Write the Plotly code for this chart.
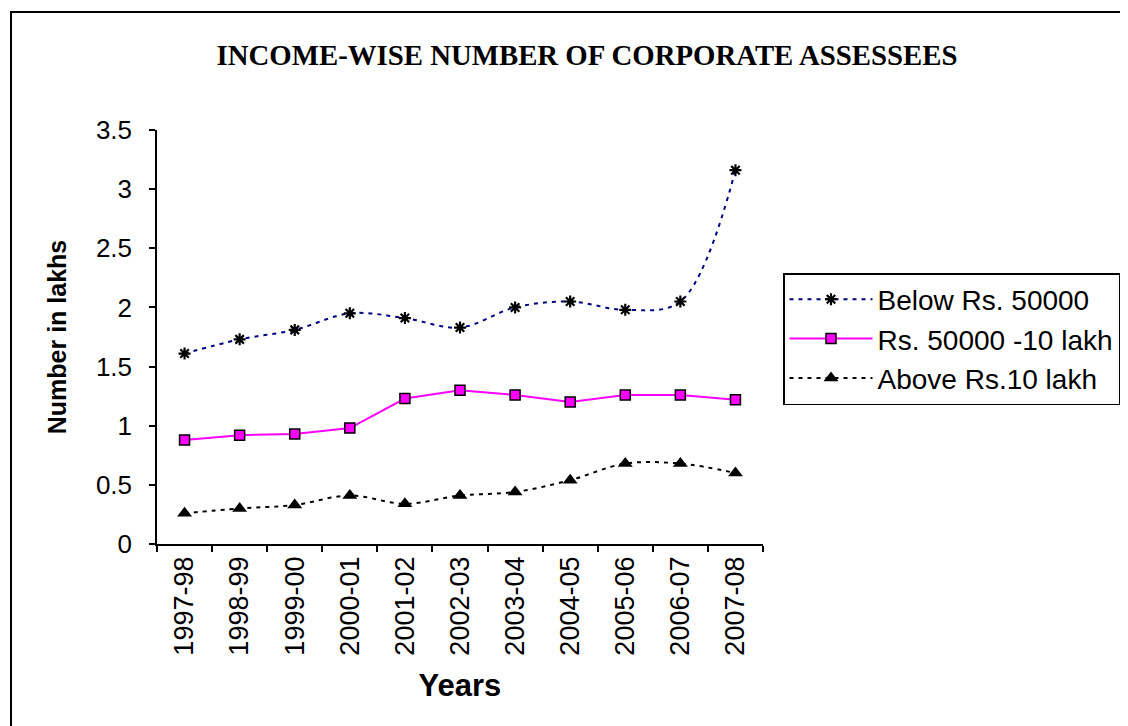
import plotly.graph_objects as go

years = ["1997-98", "1998-99", "1999-00", "2000-01", "2001-02", "2002-03",
         "2003-04", "2004-05", "2005-06", "2006-07", "2007-08"]
below_50000 = [1.61, 1.73, 1.81, 1.95, 1.91, 1.83, 2.00, 2.05, 1.98, 2.05, 3.16]
rs50000_10lakh = [0.88, 0.92, 0.93, 0.98, 1.23, 1.30, 1.26, 1.20, 1.26, 1.26, 1.22]
above_10lakh = [0.26, 0.30, 0.33, 0.41, 0.34, 0.41, 0.44, 0.54, 0.68, 0.68, 0.60]

series_names = ["Below Rs. 50000", "Rs. 50000 -10 lakh", "Above Rs.10 lakh"]
y_ticks = [0, 0.5, 1, 1.5, 2, 2.5, 3, 3.5]

# page has an 8px body margin; work in reference pixels and shift
OFF = 8
W, H = 1128 - OFF, 726 - OFF
PL, PR, PT, PB = 157, 763, 130, 544  # plot area in reference pixels
L, R, T, B = PL - OFF, W - (PR - OFF), PT - OFF, H - (PB - OFF)
pw, ph = PR - PL, PB - PT

def px_x(x):
    return (x - PL) / pw

def px_y(y):
    return (PB - y) / ph

fig = go.Figure()
fig.add_trace(go.Scatter(
    x=years, y=below_50000, name=series_names[0], mode="lines+markers",
    line=dict(color="#000080", width=2, dash="4px,5px", shape="spline", smoothing=1),
    marker=dict(symbol="asterisk-open", size=10, color="black",
                line=dict(color="black", width=2.2)),
))
fig.add_trace(go.Scatter(
    x=years, y=rs50000_10lakh, name=series_names[1], mode="lines+markers",
    line=dict(color="#FF00FF", width=2),
    marker=dict(symbol="square", size=10, color="#FF00FF",
                line=dict(color="black", width=1.5)),
))
fig.add_trace(go.Scatter(
    x=years, y=above_10lakh, name=series_names[2], mode="lines+markers",
    line=dict(color="black", width=2, dash="4px,5px", shape="spline", smoothing=1),
    marker=dict(symbol="triangle-up", size=13, color="black"),
))

fig.add_shape(type="rect", xref="paper", yref="paper",
              x0=px_x(11), x1=px_x(1400), y0=px_y(1000), y1=px_y(12),
              line=dict(color="black", width=2), fillcolor="rgba(0,0,0,0)",
              layer="below")

fig.update_layout(
    width=W, height=H,
    margin=dict(l=L, r=R, t=T, b=B, autoexpand=False),
    paper_bgcolor="white", plot_bgcolor="white",
    font=dict(family="Liberation Sans, Arial, sans-serif", color="black"),
    title=dict(text="<b>INCOME-WISE NUMBER OF CORPORATE ASSESSEES</b>",
               font=dict(family="Liberation Serif, Times New Roman, serif", size=28.8, color="black"),
               x=(587 - OFF) / W, xanchor="center",
               y=1 - (55 - OFF) / H, yanchor="middle"),
    xaxis=dict(
        type="category", showgrid=False, showline=True, linecolor="black", linewidth=1.5,
        ticks="outside", ticklen=6, tickcolor="black", tickwidth=1.5,
        tickson="boundaries", tickangle=-90, tickfont=dict(size=27),
        title=dict(text="<b>Years</b>", font=dict(size=31), standoff=20),
        range=[-0.5, 10.5], zeroline=False,
    ),
    yaxis=dict(
        range=[0, 3.5], tickvals=y_ticks, showgrid=False, showline=True,
        linecolor="black", linewidth=1.5, ticks="outside", ticklen=6,
        tickcolor="black", tickwidth=1.5, tickfont=dict(size=26), zeroline=False,
        ticklabelstandoff=12,
        title=dict(text="<b>Number in lakhs</b>", font=dict(size=25), standoff=22),
    ),
    legend=dict(
        x=px_x(783), y=px_y(273), xanchor="left", yanchor="top",
        bordercolor="black", borderwidth=1.5, bgcolor="white",
        font=dict(size=28), itemwidth=83, tracegroupgap=0,
    ),
    showlegend=True,
)

fig.write_html("out.html")
